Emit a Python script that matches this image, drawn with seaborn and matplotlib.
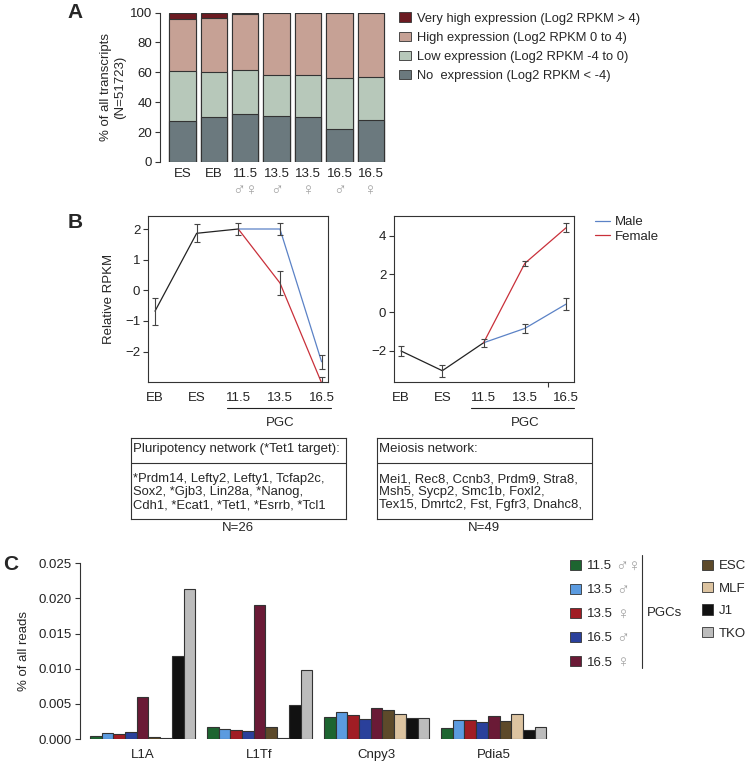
import matplotlib
matplotlib.use('Agg')
import matplotlib.pyplot as plt
import matplotlib.transforms as mtransforms
from matplotlib.patches import Patch
from matplotlib.lines import Line2D
from matplotlib.ticker import FormatStrFormatter
import numpy as np
import pandas as pd
import seaborn as sns

sns.set_style('ticks')
plt.rcParams['font.family'] = ['Liberation Sans', 'DejaVu Sans']
plt.rcParams['font.size'] = 9
plt.rcParams['axes.edgecolor'] = '#333333'
plt.rcParams['xtick.color'] = '#333333'
plt.rcParams['ytick.color'] = '#333333'
plt.rcParams['xtick.labelcolor'] = '#222222'
plt.rcParams['ytick.labelcolor'] = '#222222'

# --- A: expression classes per sample (% of transcripts)
a_keys = ['ES', 'EB', '11.5 ♂♀', '13.5 ♂', '13.5 ♀', '16.5 ♂', '16.5 ♀']
a_ticks = ['ES', 'EB', '11.5', '13.5', '13.5', '16.5', '16.5']
a_sex = ['', '', '♂♀', '♂', '♀', '♂', '♀']
no_expr = [27.5, 30.2, 32.4, 30.9, 30.2, 21.8, 28.4]
low_expr = [33.5, 30.0, 28.9, 27.3, 28.0, 34.6, 28.7]
high_expr = [34.8, 35.8, 37.7, 41.7, 41.8, 43.2, 42.8]
very_high = [4.2, 4.0, 1.0, 0.1, 0.0, 0.4, 0.1]
a_labels = ['No  expression (Log2 RPKM < -4)', 'Low expression (Log2 RPKM -4 to 0)',
            'High expression (Log2 RPKM 0 to 4)', 'Very high expression (Log2 RPKM > 4)']
a_colors = ['#6b797e', '#b7c8ba', '#c6a195', '#6c1b22']

# --- B: relative RPKM of gene networks
b_stages = ['EB', 'ES', '11.5', '13.5', '16.5']
pluri_shared = [-0.68, 1.86, 2.0]
pluri_shared_err = [0.44, 0.30, 0.20]
pluri_male = [2.0, 2.0, -2.33]
pluri_male_err = [0.20, 0.20, 0.22]
pluri_female = [2.0, 0.24, -3.02]
pluri_female_err = [0.20, 0.39, 0.20]
meio_shared = [-2.02, -3.05, -1.59]
meio_shared_err = [0.27, 0.32, 0.20]
meio_male = [-1.59, -0.84, 0.43]
meio_male_err = [0.20, 0.22, 0.30]
meio_female = [-1.59, 2.56, 4.42]
meio_female_err = [0.20, 0.14, 0.25]

pluri_title = 'Pluripotency network (*Tet1 target):'
pluri_genes = ('*Prdm14, Lefty2, Lefty1, Tcfap2c,\nSox2, *Gjb3, Lin28a, *Nanog,\n'
               'Cdh1, *Ecat1, *Tet1, *Esrrb, *Tcl1')
meio_title = 'Meiosis network:'
meio_genes = ('Mei1, Rec8, Ccnb3, Prdm9, Stra8,\nMsh5, Sycp2, Smc1b, Foxl2,\n'
              'Tex15, Dmrtc2, Fst, Fgfr3, Dnahc8,')

# --- C: % of all reads
c_genes = ['L1A', 'L1Tf', 'Cnpy3', 'Pdia5']
c_samples = ['11.5 ♂♀', '13.5 ♂', '13.5 ♀', '16.5 ♂', '16.5 ♀', 'ESC', 'MLF', 'J1', 'TKO']
c_colors = ['#1d6530', '#5b9be0', '#a01d24', '#2a409b', '#6a1a36',
            '#5d4a2a', '#dcc3a0', '#111111', '#bcbcbc']
l1a = [0.00047, 0.0008, 0.0007, 0.00104, 0.0060, 0.00024, 0.0001, 0.0118, 0.0213]
l1tf = [0.0017, 0.0014, 0.00132, 0.00118, 0.0190, 0.0017, 0.00014, 0.0049, 0.0098]
cnpy3 = [0.0031, 0.0039, 0.00345, 0.00284, 0.00445, 0.00416, 0.00355, 0.00294, 0.00294]
pdia5 = [0.0016, 0.0027, 0.00265, 0.00246, 0.00322, 0.0026, 0.00355, 0.00132, 0.0017]

W, H = 747, 761
fig = plt.figure(figsize=(W / 100, H / 100), dpi=100)


def px_box(x0, y0, x1, y1):
    return [x0 / W, 1 - y1 / H, (x1 - x0) / W, (y1 - y0) / H]


def fig_xy(x, y):
    return (x / W, 1 - y / H)


EDGE = '#333333'
SYM = '#a0a0a0'

# ================= Panel A
ax_a = fig.add_axes(px_box(160, 12.5, 386, 162))
stack = np.cumsum([no_expr, low_expr, high_expr, very_high], axis=0)
for level, color in reversed(list(zip(stack, a_colors))):
    sns.barplot(x=a_keys, y=level, color=color, saturation=1, width=0.84,
                edgecolor=EDGE, linewidth=0.8, ax=ax_a)
ax_a.set_xlim(-0.715, 6.48)
ax_a.set_ylim(0, 100)
ax_a.set_yticks([0, 20, 40, 60, 80, 100])
ax_a.set_xticks(range(len(a_keys)))
ax_a.set_xticklabels(a_ticks, fontsize=9.5)
ax_a.tick_params(axis='x', length=0, pad=4)
ax_a.tick_params(axis='y', length=3.5, width=0.8, pad=2, labelsize=9.5)
sns.despine(ax=ax_a, bottom=True)
ax_a.spines['left'].set_linewidth(0.8)
ax_a.set_ylabel('% of all transcripts\n(N=51723)', labelpad=3, fontsize=9.5)
blend_a = mtransforms.blended_transform_factory(ax_a.transData, ax_a.transAxes)
for i, s in enumerate(a_sex):
    ax_a.text(i, -0.19, s, transform=blend_a, ha='center', va='center',
              color=SYM, fontsize=12.5)
a_handles = [Patch(facecolor=c, edgecolor=EDGE, linewidth=0.6) for c in a_colors]
fig.legend(a_handles[::-1], a_labels[::-1], loc='upper left',
           bbox_to_anchor=fig_xy(399, 12.5), frameon=False, fontsize=9.3,
           borderpad=0, borderaxespad=0, handlelength=0.95, handleheight=0.75,
           handletextpad=0.45, labelspacing=0.53)


# ================= Panel B
def draw_network(ax, shared, shared_err, male, male_err, female, female_err, minor_ticks):
    pos = np.arange(len(b_stages))
    sns.lineplot(x=pos[:3], y=shared, color='#222222', linewidth=0.9, sort=False, ax=ax)
    sns.lineplot(x=pos[2:], y=male, color='#5b82c6', linewidth=0.9, sort=False, ax=ax)
    sns.lineplot(x=pos[2:], y=female, color='#c9303a', linewidth=0.9, sort=False, ax=ax)
    ax.errorbar(pos[:3], shared, yerr=shared_err, fmt='none', ecolor='#444444',
                elinewidth=0.8, capsize=2.5, capthick=0.8)
    ax.errorbar(pos[3:], male[1:], yerr=male_err[1:], fmt='none', ecolor='#444444',
                elinewidth=0.8, capsize=2.5, capthick=0.8)
    ax.errorbar(pos[3:], female[1:], yerr=female_err[1:], fmt='none', ecolor='#444444',
                elinewidth=0.8, capsize=2.5, capthick=0.8)
    ax.set_xticks(pos)
    ax.set_xticklabels(b_stages)
    ax.set_xticks(minor_ticks, minor=True)
    ax.tick_params(axis='x', which='major', length=0, pad=7, labelsize=9.5)
    ax.tick_params(axis='x', which='minor', length=3.5, width=0.8)
    ax.tick_params(axis='y', length=3.5, width=0.8, pad=2, labelsize=9.5)
    for sp in ax.spines.values():
        sp.set_linewidth(0.8)
    blend = mtransforms.blended_transform_factory(ax.transData, ax.transAxes)
    return blend


ax_b1 = fig.add_axes(px_box(148, 216, 328, 382))
blend1 = draw_network(ax_b1, pluri_shared, pluri_shared_err, pluri_male, pluri_male_err,
                      pluri_female, pluri_female_err, [0, 1, 2, 3, 4])
ax_b1.set_xlim(-0.168, 4.154)
ax_b1.set_ylim(-2.99, 2.424)
ax_b1.set_yticks([-2, -1, 0, 1, 2])
ax_b1.set_ylabel('Relative RPKM', labelpad=7, fontsize=9.5)
ax_b1.plot([1.736, 4.218], [-0.158, -0.158], color='#222222', lw=0.8,
           transform=blend1, clip_on=False)
ax_b1.text(3.0, -0.245, 'PGC', transform=blend1, ha='center', va='center', fontsize=9.5)

ax_b2 = fig.add_axes(px_box(394, 216, 574, 382))
blend2 = draw_network(ax_b2, meio_shared, meio_shared_err, meio_male, meio_male_err,
                      meio_female, meio_female_err, [0, 1, 2, 3, 3.57])
ax_b2.set_xlim(-0.17, 4.19)
ax_b2.set_ylim(-3.64, 5.03)
ax_b2.set_yticks([-2, 0, 2, 4])
ax_b2.plot([1.695, 4.196], [-0.158, -0.158], color='#222222', lw=0.8,
           transform=blend2, clip_on=False)
ax_b2.text(3.0, -0.245, 'PGC', transform=blend2, ha='center', va='center', fontsize=9.5)

fig.legend([Line2D([], [], color='#5b82c6', lw=0.9), Line2D([], [], color='#c9303a', lw=0.9)],
           ['Male', 'Female'], loc='upper left', bbox_to_anchor=fig_xy(595, 216),
           frameon=False, fontsize=9.5, borderpad=0, borderaxespad=0,
           handlelength=1.15, handletextpad=0.33, labelspacing=0.2)


def gene_box(box, title, genes, n_label):
    ax = fig.add_axes(px_box(*box))
    ax.set_xticks([])
    ax.set_yticks([])
    ax.set_xlim(0, 1)
    ax.set_ylim(0, 1)
    for sp in ax.spines.values():
        sp.set_linewidth(0.8)
        sp.set_color('#333333')
    ax.axhline(0.689, color='#333333', lw=0.8)
    ax.text(0.01, 0.86, title, ha='left', va='center', fontsize=9.5)
    ax.text(0.01, 0.33, genes, ha='left', va='center', linespacing=1.12, fontsize=9.4)
    ax.text(0.5, -0.115, n_label, ha='center', va='center', fontsize=9.5)


gene_box((131, 437.7, 345.7, 519), pluri_title, pluri_genes, 'N=26')
gene_box((377, 437.7, 591.7, 519), meio_title, meio_genes, 'N=49')

# ================= Panel C
df_c = pd.DataFrame({
    'gene': np.repeat(c_genes, len(c_samples)),
    'sample': c_samples * len(c_genes),
    'pct': np.concatenate([l1a, l1tf, cnpy3, pdia5]),
})
ax_c = fig.add_axes(px_box(80, 563.3, 560, 739))
sns.barplot(data=df_c, x='gene', y='pct', hue='sample', hue_order=c_samples,
            palette=c_colors, saturation=1, width=0.9, edgecolor=EDGE,
            linewidth=0.8, legend=False, ax=ax_c)
ax_c.set_xlim(-0.535, 3.567)
ax_c.set_ylim(0, 0.025)
ax_c.set_yticks([0, 0.005, 0.010, 0.015, 0.020, 0.025])
ax_c.yaxis.set_major_formatter(FormatStrFormatter('%.3f'))
ax_c.tick_params(axis='x', length=0, pad=7, labelsize=9.5)
ax_c.tick_params(axis='y', length=3.5, width=0.8, pad=2.5, labelsize=9.5)
sns.despine(ax=ax_c, bottom=True)
ax_c.spines['left'].set_linewidth(0.8)
ax_c.set_xlabel('')
ax_c.set_ylabel('% of all reads', labelpad=6, fontsize=9.5)

c_handles = [Patch(facecolor=c, edgecolor=EDGE, linewidth=0.6) for c in c_colors]
leg1 = ax_c.legend(c_handles[:5], [s.split(' ')[0] for s in c_samples[:5]],
                   loc='upper left', bbox_to_anchor=fig_xy(570, 559.5),
                   bbox_transform=fig.transFigure, frameon=False, fontsize=9.5,
                   borderpad=0, borderaxespad=0, handlelength=0.85, handleheight=0.85,
                   handletextpad=0.45, labelspacing=0.85)
ax_c.add_artist(leg1)
for txt, s in zip(leg1.get_texts(), c_samples[:5]):
    ax_c.annotate(s.split(' ')[1], xy=(1, 0.5), xycoords=txt, xytext=(2.5, 0),
                  textcoords='offset points', ha='left', va='center',
                  color=SYM, fontsize=12.5, zorder=6)
leg2 = ax_c.legend(c_handles[5:], c_samples[5:], loc='upper left',
                   bbox_to_anchor=fig_xy(702, 559.5), bbox_transform=fig.transFigure,
                   frameon=False, fontsize=9.5, borderpad=0, borderaxespad=0,
                   handlelength=0.85, handleheight=0.85, handletextpad=0.45,
                   labelspacing=0.73)
fig.add_artist(Line2D([641.7 / W, 641.7 / W], [1 - 555 / H, 1 - 668 / H],
                      color='#333333', lw=0.8))
fig.text(647 / W, 1 - 613.3 / H, 'PGCs', ha='left', va='center', fontsize=9.5)

# panel letters
for letter, (x, y) in zip('ABC', [(75, 12), (75, 223), (11, 564)]):
    fig.text(x / W, 1 - y / H, letter, ha='center', va='center',
             fontsize=15, fontweight='bold')

fig.canvas.draw()
fig.savefig('out.png', dpi=100)
